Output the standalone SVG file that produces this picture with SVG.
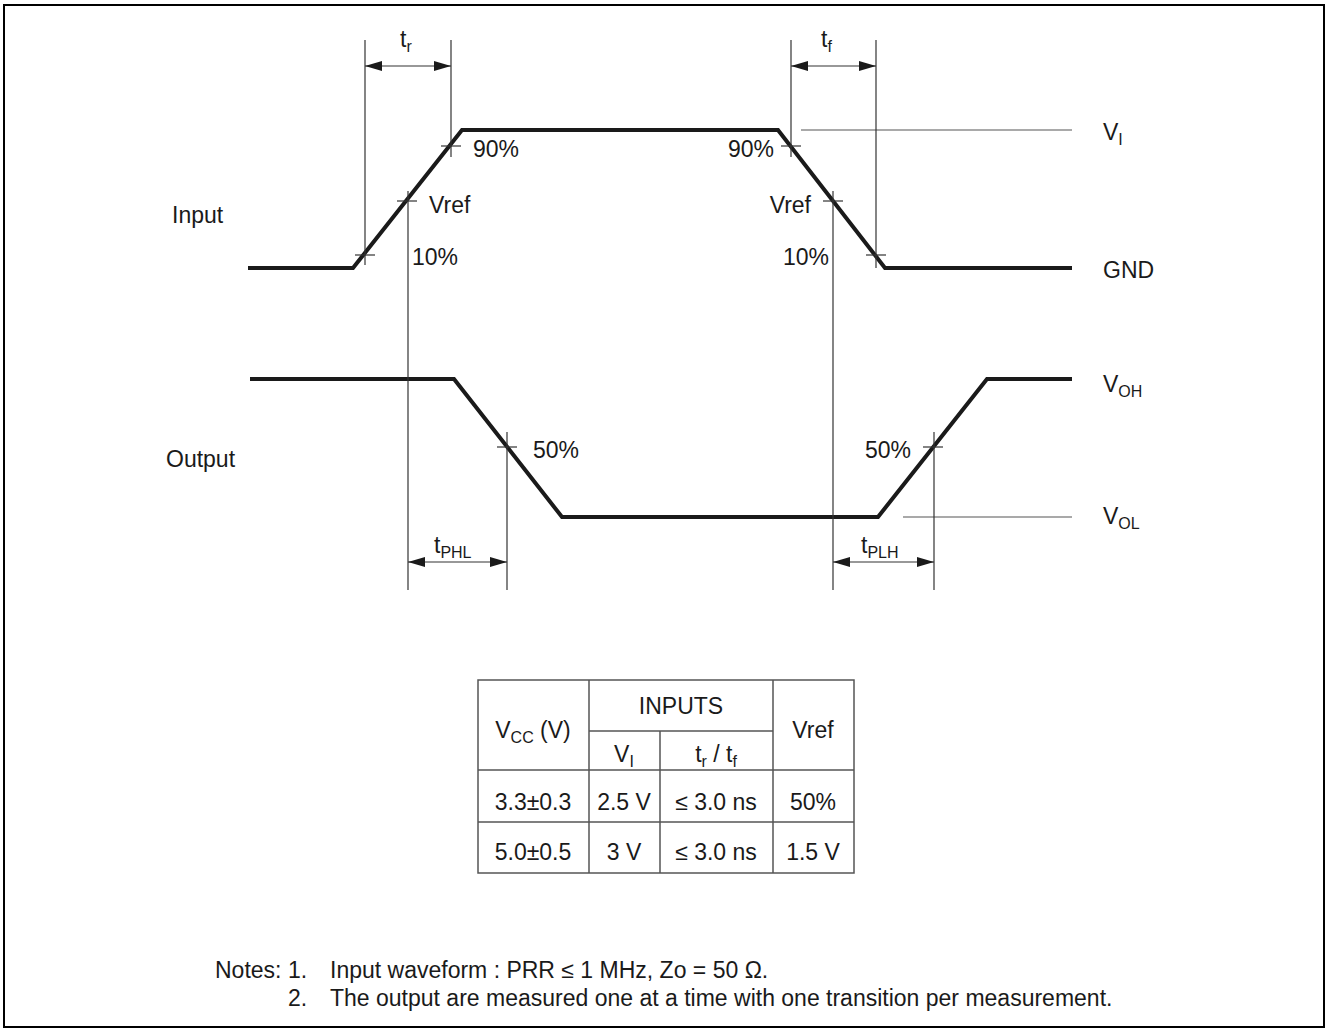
<svg xmlns="http://www.w3.org/2000/svg" width="1326" height="1029" viewBox="0 0 1326 1029">
<style>
text{font-family:"Liberation Sans",Arial,sans-serif;font-size:23px;fill:#1a1a1a}
.sub{font-size:16px}
.thin{stroke:#333;stroke-width:1.2;fill:none}
.ref{stroke:#555;stroke-width:1.2;fill:none}
.wave{stroke:#1a1a1a;stroke-width:4;fill:none;stroke-linejoin:miter}
.dim{stroke:#333;stroke-width:1.2;fill:none;marker-start:url(#ah);marker-end:url(#ah)}
.tb{stroke:#555;stroke-width:1.5;fill:none}
.c{text-anchor:middle}
.e{text-anchor:end}
</style>
<defs>
<marker id="ah" markerUnits="userSpaceOnUse" markerWidth="18" markerHeight="11" refX="17" refY="5" orient="auto-start-reverse">
<path d="M0,0 L17,5 L0,10 Z" fill="#1a1a1a"/>
</marker>
</defs>
<rect x="4" y="5" width="1320" height="1022" fill="#fff" stroke="#000" stroke-width="2"/>

<g id="input-wave">
<path class="wave" d="M248,268 L353,268 L462,130 L778,130 L885,268 L1072,268"/>
<text x="172" y="223">Input</text>
</g>
<g id="output-wave">
<path class="wave" d="M250,379 L454,379 L562,517 L878,517 L987,379 L1072,379"/>
<text x="166" y="467">Output</text>
</g>

<g id="connectors">
<line class="ref" x1="801" y1="130" x2="1072" y2="130"/>
<line class="ref" x1="903" y1="517" x2="1072" y2="517"/>
<line class="thin" x1="365" y1="40" x2="365" y2="265"/>
<line class="thin" x1="451" y1="40" x2="451" y2="157"/>
<line class="dim" x1="365" y1="66" x2="451" y2="66"/>
<line class="thin" x1="791" y1="40" x2="791" y2="157"/>
<line class="thin" x1="876" y1="40" x2="876" y2="268"/>
<line class="dim" x1="791" y1="66" x2="876" y2="66"/>
<line class="thin" x1="441" y1="146" x2="461" y2="146"/>
<line class="thin" x1="397" y1="201" x2="417" y2="201"/>
<line class="thin" x1="355" y1="255" x2="375" y2="255"/>
<line class="thin" x1="781" y1="146" x2="801" y2="146"/>
<line class="thin" x1="823" y1="201" x2="843" y2="201"/>
<line class="thin" x1="866" y1="255" x2="886" y2="255"/>
<line class="thin" x1="408" y1="191" x2="408" y2="590"/>
<line class="thin" x1="833" y1="191" x2="833" y2="590"/>
<line class="thin" x1="497" y1="447" x2="517" y2="447"/>
<line class="thin" x1="507" y1="432" x2="507" y2="590"/>
<line class="thin" x1="923" y1="447" x2="943" y2="447"/>
<line class="thin" x1="934" y1="432" x2="934" y2="590"/>
<line class="dim" x1="408" y1="562" x2="507" y2="562"/>
<line class="dim" x1="833" y1="562" x2="934" y2="562"/>
</g>

<g id="labels">
<text x="400" y="47">t<tspan class="sub" dy="5">r</tspan></text>
<text x="821" y="47">t<tspan class="sub" dy="5">f</tspan></text>
<text x="473" y="157">90%</text>
<text x="429" y="213">Vref</text>
<text x="412" y="265">10%</text>
<text class="e" x="774" y="157">90%</text>
<text class="e" x="811" y="213">Vref</text>
<text class="e" x="829" y="265">10%</text>
<text x="533" y="458">50%</text>
<text class="e" x="911" y="458">50%</text>
<text x="434" y="553">t<tspan class="sub" dy="5">PHL</tspan></text>
<text x="861" y="553">t<tspan class="sub" dy="5">PLH</tspan></text>
<text x="1103" y="140">V<tspan class="sub" dy="5">I</tspan></text>
<text x="1103" y="278">GND</text>
<text x="1103" y="392">V<tspan class="sub" dy="5">OH</tspan></text>
<text x="1103" y="524">V<tspan class="sub" dy="5">OL</tspan></text>
</g>

<g id="table">
<rect class="tb" x="478" y="680" width="376" height="193"/>
<line class="tb" x1="589" y1="680" x2="589" y2="873"/>
<line class="tb" x1="773" y1="680" x2="773" y2="873"/>
<line class="tb" x1="660" y1="731" x2="660" y2="873"/>
<line class="tb" x1="589" y1="731" x2="773" y2="731"/>
<line class="tb" x1="478" y1="770" x2="854" y2="770"/>
<line class="tb" x1="478" y1="822" x2="854" y2="822"/>
<text class="c" x="533" y="738">V<tspan class="sub" dy="5">CC</tspan><tspan dy="-5"> (V)</tspan></text>
<text class="c" x="681" y="714">INPUTS</text>
<text class="c" x="813" y="738">Vref</text>
<text class="c" x="624" y="762">V<tspan class="sub" dy="5">I</tspan></text>
<text class="c" x="716" y="762">t<tspan class="sub" dy="5">r</tspan><tspan dy="-5"> / t</tspan><tspan class="sub" dy="5">f</tspan></text>
<text class="c" x="533" y="810">3.3±0.3</text>
<text class="c" x="624" y="810">2.5 V</text>
<text class="c" x="716" y="810">≤ 3.0 ns</text>
<text class="c" x="813" y="810">50%</text>
<text class="c" x="533" y="860">5.0±0.5</text>
<text class="c" x="624" y="860">3 V</text>
<text class="c" x="716" y="860">≤ 3.0 ns</text>
<text class="c" x="813" y="860">1.5 V</text>
</g>

<g id="notes">
<text x="215" y="978">Notes:</text>
<text x="288" y="978">1.</text>
<text x="330" y="978">Input waveform : PRR ≤ 1 MHz, Zo = 50 Ω.</text>
<text x="288" y="1006">2.</text>
<text x="330" y="1006">The output are measured one at a time with one transition per measurement.</text>
</g>
</svg>
